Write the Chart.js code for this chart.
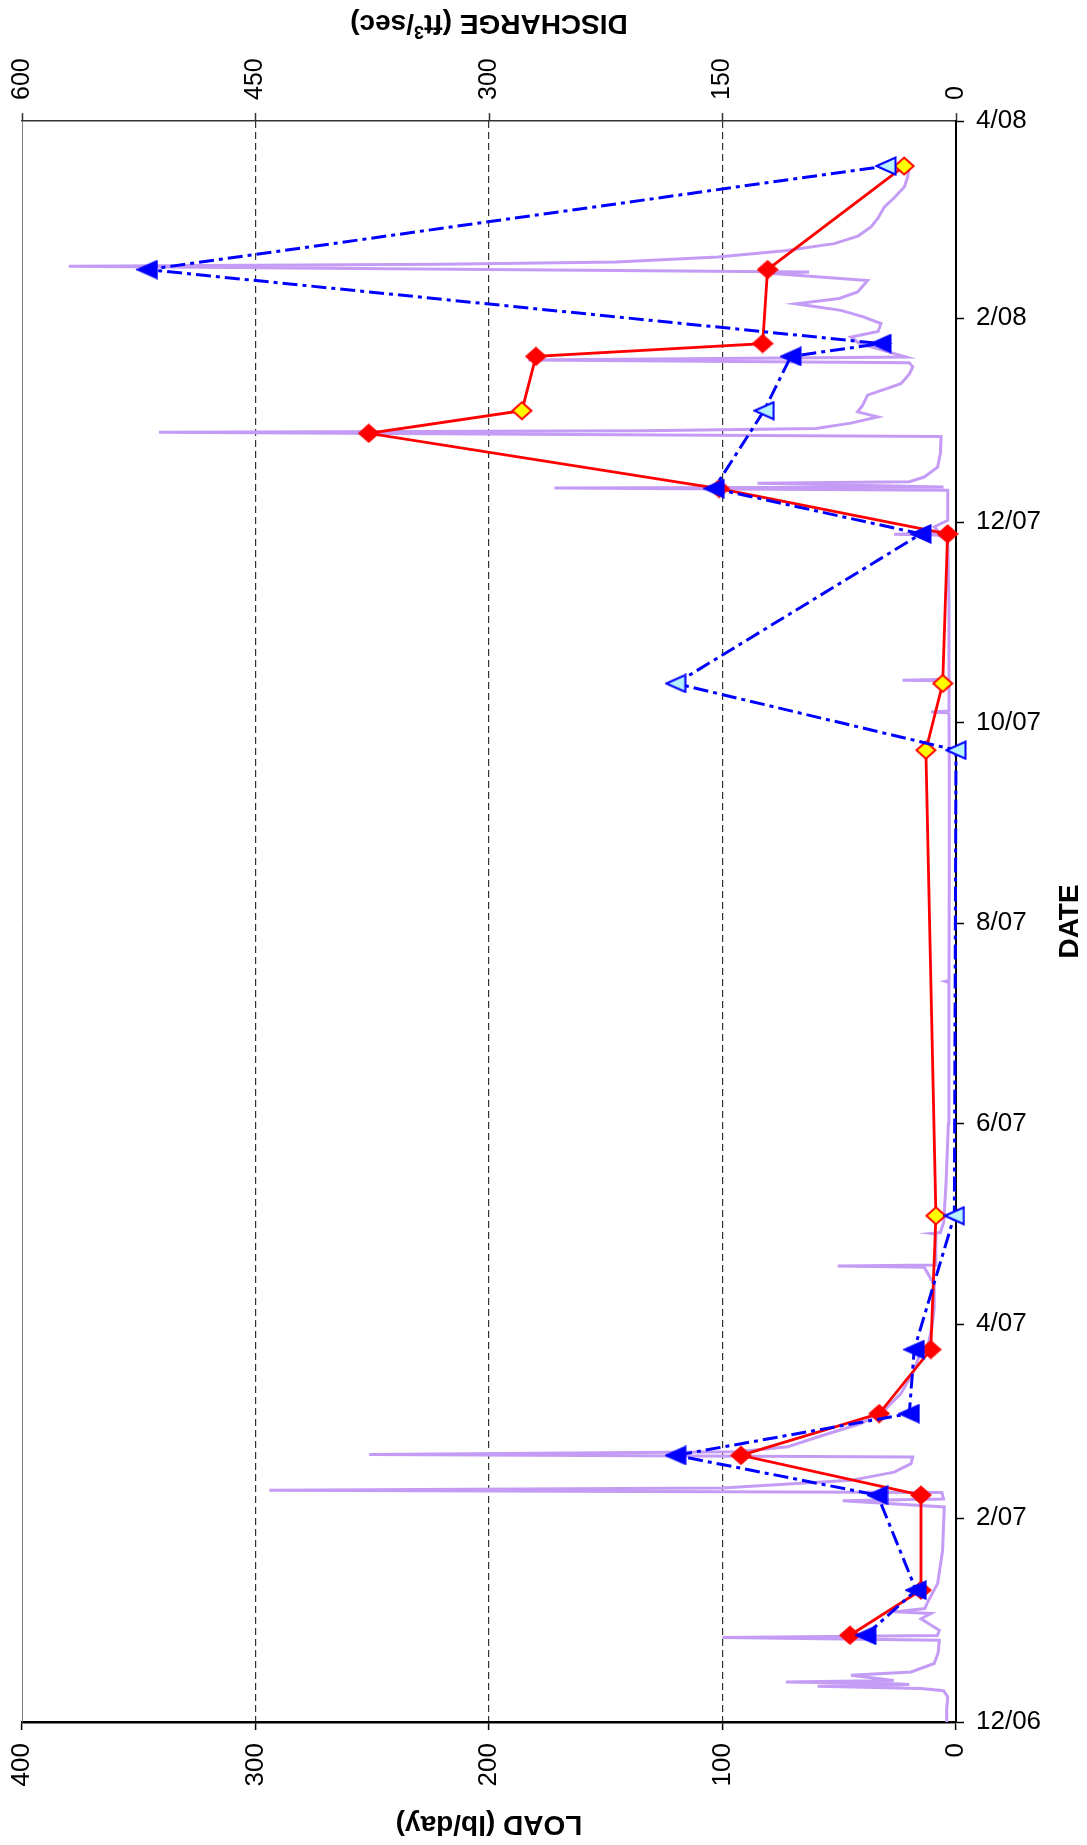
<!DOCTYPE html>
<html>
<head>
<meta charset="utf-8">
<script src="https://cdn.jsdelivr.net/npm/chart.js@4.4.1/dist/chart.umd.min.js"></script>
<style>
  html, body { margin: 0; padding: 0; background: #ffffff; }
  canvas { display: block; }
</style>
</head>
<body>
<canvas id="chart" width="1087" height="1845"></canvas>
<script>
// Date axis: days counted from 1 Dec 2006, labelled every two months
const dateTickDays = [0, 62, 121, 182, 243, 304, 365, 427, 487];
const dateTickLabels = ['12/06', '2/07', '4/07', '6/07', '8/07', '10/07', '12/07', '2/08', '4/08'];
const loadTicks = [0, 100, 200, 300, 400];
const dischargeTicks = [0, 150, 300, 450, 600];

// Continuous discharge record (ft3/sec)
const flowDays = [
  0, 4, 7.6, 9.5, 10.2, 10.9, 11.4, 11.7, 12.2, 12.6, 14.2, 15.2, 17.8, 21, 24.9, 25.7, 26.3, 27.9,
  31.4, 33, 33.5, 34.5, 36.5, 42.1, 52.2, 60, 65.4, 67.3, 67.8, 69.8, 70.5, 71.2, 72, 73.5, 76,
  78.6, 80.6, 81.4, 82.2, 83.7, 86.7, 90.8, 94.8, 99.9, 107, 113.1, 114.2, 120, 125.9, 133,
  138.3, 138.7, 139, 143, 148.4, 148.6, 148.9, 152, 164, 182, 200, 225, 225.3, 225.6, 260, 289,
  307, 307.2, 307.5, 316.7, 316.9, 317.2, 340, 359.5, 361.1, 361.3, 361.6, 363.5, 365.5, 374.7,
  375.4, 375.7, 376.8, 377.3, 378.7, 381.7, 386, 391, 392.3, 392.8, 393.5, 395.1, 397, 398.5,
  400.5, 403.6, 407.1, 410, 412.2, 413.5, 414.3, 415.2, 417, 419.3, 421.3, 423, 425.4, 427.5,
  429.4, 431.4, 433, 435, 438.5, 440.6, 441.1, 442.8, 443.4, 444.1, 445.6, 447.5, 449.7, 452,
  454.8, 457.5, 460.8, 463.5, 466.9, 470, 473.5
];
const flowCfs = [
  6.4, 6, 5.3, 8, 22.5, 88.9, 30, 41.8, 109.3, 40, 67.5, 28.9, 14, 11.5, 10.7, 150, 12, 10.7,
  22.5, 16, 39.7, 20, 18.2, 11.8, 8.6, 8, 7.5, 72.8, 8, 9, 441, 150, 121, 67.5, 39.7,
  28.9, 27.8, 377, 140, 108.2, 88.9, 61.1, 46.1, 35.4, 26.8, 22.5, 18.2, 15.5, 14, 14,
  20.4, 76, 13, 12.9, 13, 16, 10, 7.9, 6.4, 4.9, 4.6, 4.5, 6.9, 4.5, 4.3, 4.3,
  4.5, 16, 4.5, 4.5, 34.3, 4.5, 4.5, 5.3, 12, 39.7, 10, 14, 5.3, 5.3,
  258, 8, 127.5, 30, 20.4, 11.8, 10, 9.6, 512, 200, 90, 67.5, 50.3, 63.2,
  60, 56.8, 35.4, 30, 27.8, 30, 275, 32, 45, 62, 67.5, 50, 48.2, 60,
  73.9, 102.9, 75, 63.2, 56.8, 117.8, 94.3, 570, 330, 218, 153, 110, 78.2, 63,
  54.6, 50, 46.1, 40, 33.2, 31, 30
];

// Sampled loads (lb/day)
const sampleDays = [26.4, 40.1, 69.0, 81.1, 93.8, 113.3, 154, 295.6, 315.9, 361.4, 375.2, 392.0, 398.9, 415.4, 419.3, 441.8, 473.3];
const loadSolid = [45.4, 15.0, 15.0, 92.1, 32.9, 10.8, 8.6, 12.9, 5.7, 3.6, 101.4, 251.5, 185.9, 179.9, 82.8, 80.7, 22.2];
const loadDashDot = [38.6, 17.1, 33.6, 120.0, 20.0, 17.9, 0.7, 0.0, 120.0, 15.0, 103.6, null, 82.2, 70.7, 32.1, 346.3, 30.0];
const hollowMarker = [0, 0, 0, 0, 0, 0, 1, 1, 1, 0, 0, 0, 1, 0, 0, 0, 1];

const FONT = '"Liberation Sans", Arial, Helvetica, sans-serif';
const RED = '#ff0000', BLUE = '#0000ff', YELLOW = '#ffff00', PALE = '#b8f4ff', LAVENDER = '#c49cf5';

// Marker sprites
function diamondSprite(fill, stroke) {
  const c = document.createElement('canvas');
  c.width = 22; c.height = 20;
  const g = c.getContext('2d');
  g.beginPath();
  g.moveTo(1.5, 10); g.lineTo(11, 1.5); g.lineTo(20.5, 10); g.lineTo(11, 18.5); g.closePath();
  g.fillStyle = fill; g.fill();
  g.lineWidth = 2; g.strokeStyle = stroke; g.lineJoin = 'miter'; g.stroke();
  return c;
}
function triangleSprite(fill, stroke) {
  const c = document.createElement('canvas');
  c.width = 22; c.height = 20;
  const g = c.getContext('2d');
  g.beginPath();
  g.moveTo(1.5, 10); g.lineTo(20.5, 1.5); g.lineTo(20.5, 18.5); g.closePath();
  g.fillStyle = fill; g.fill();
  g.lineWidth = 2; g.strokeStyle = stroke; g.stroke();
  return c;
}
const dmSolid = diamondSprite(RED, RED);
const dmHollow = diamondSprite(YELLOW, RED);
const trSolid = triangleSprite(BLUE, BLUE);
const trHollow = triangleSprite(PALE, BLUE);

function buildPoints(values) {
  const pts = [], styles = [];
  values.forEach((v, i) => {
    if (v === null) return;
    pts.push({ x: v, y: sampleDays[i] });
    styles.push(hollowMarker[i]);
  });
  return { pts, styles };
}
const solidSet = buildPoints(loadSolid);
const dashSet = buildPoints(loadDashDot);

const axisTitles = {
  id: 'axisTitles',
  afterDraw(chart) {
    const ctx = chart.ctx;
    const a = chart.chartArea;
    const cx = (a.left + a.right) / 2;
    const cy = (a.top + a.bottom) / 2;
    ctx.save();
    ctx.fillStyle = '#000';
    ctx.textBaseline = 'middle';
    ctx.textAlign = 'center';
    ctx.font = 'bold 28px ' + FONT;

    // left edge of the plot frame
    ctx.strokeStyle = '#7f7f7f';
    ctx.lineWidth = 1;
    ctx.beginPath();
    ctx.moveTo(a.left + 0.5, a.top);
    ctx.lineTo(a.left + 0.5, a.bottom);
    ctx.stroke();

    // load axis title, turned upside down
    ctx.save();
    ctx.translate(cx, 1824);
    ctx.rotate(Math.PI);
    ctx.fillText('LOAD (lb/day)', 0, 0);
    ctx.restore();

    // date axis title, reading upward
    ctx.save();
    ctx.translate(1070, cy);
    ctx.rotate(-Math.PI / 2);
    ctx.fillText('DATE', 0, 0);
    ctx.restore();

    // discharge axis title with superscript, upside down
    ctx.save();
    ctx.translate(cx, 23);
    ctx.rotate(Math.PI);
    ctx.textAlign = 'left';
    const p1 = 'DISCHARGE (ft', p2 = '3', p3 = '/sec)';
    ctx.font = 'bold 28px ' + FONT;
    const w1 = ctx.measureText(p1).width;
    const w3 = ctx.measureText(p3).width;
    ctx.font = 'bold 18px ' + FONT;
    const w2 = ctx.measureText(p2).width;
    let x = -(w1 + w2 + w3) / 2;
    ctx.font = 'bold 28px ' + FONT;
    ctx.fillText(p1, x, 0); x += w1;
    ctx.font = 'bold 18px ' + FONT;
    ctx.fillText(p2, x, -8); x += w2;
    ctx.font = 'bold 28px ' + FONT;
    ctx.fillText(p3, x, 0);
    ctx.restore();

    ctx.restore();
  }
};

new Chart(document.getElementById('chart'), {
  type: 'scatter',
  data: {
    datasets: [
      {
        data: dashSet.pts,
        xAxisID: 'xl', yAxisID: 'y',
        showLine: true,
        borderColor: BLUE,
        borderWidth: 3,
        borderDash: [15, 5, 4, 5],
        pointStyle: dashSet.styles.map(h => h ? trHollow : trSolid),
        pointRadius: 10,
        clip: false
      },
      {
        data: solidSet.pts,
        xAxisID: 'xl', yAxisID: 'y',
        showLine: true,
        borderColor: RED,
        borderWidth: 2.8,
        pointStyle: solidSet.styles.map(h => h ? dmHollow : dmSolid),
        pointRadius: 10,
        clip: false
      },
      {
        data: flowDays.map((d, i) => ({ x: flowCfs[i], y: d })),
        xAxisID: 'xq', yAxisID: 'y',
        showLine: true,
        borderColor: LAVENDER,
        borderWidth: 3,
        pointRadius: 0,
        tension: 0
      }
    ]
  },
  options: {
    responsive: false,
    animation: false,
    devicePixelRatio: 1,
    layout: { padding: { left: 22, top: 0, right: 0, bottom: 0 } },
    plugins: { legend: { display: false }, tooltip: { enabled: false } },
    scales: {
      xl: {
        type: 'linear', position: 'bottom', reverse: true, min: 0, max: 400,
        afterBuildTicks: s => { s.ticks = loadTicks.map(v => ({ value: v })); },
        afterFit: s => { s.height = 123; },
        ticks: { autoSkip: false, minRotation: 90, maxRotation: 90, padding: 13, color: '#000',
                 font: { family: FONT, size: 26 } },
        grid: {
          color: c => (c.tick && (c.tick.value === 0 || c.tick.value === 400)) ? 'rgba(0,0,0,0)' : '#333333',
          lineWidth: 1.2, tickColor: '#000', tickLength: 8, tickWidth: 1.5
        },
        border: { color: '#000', width: 2.5, dash: [7, 4] }
      },
      xq: {
        type: 'linear', position: 'top', reverse: true, min: 0, max: 600,
        afterBuildTicks: s => { s.ticks = dischargeTicks.map(v => ({ value: v })); },
        afterFit: s => { s.height = 121; },
        ticks: { autoSkip: false, minRotation: 90, maxRotation: 90, padding: 13, color: '#000',
                 labelOffset: 30, font: { family: FONT, size: 25 } },
        grid: { drawOnChartArea: false, tickColor: '#333', tickLength: 8, tickWidth: 1.5 },
        border: { color: '#333', width: 1.5 }
      },
      y: {
        type: 'linear', position: 'right', min: 0, max: 487,
        afterBuildTicks: s => { s.ticks = dateTickDays.map(v => ({ value: v })); },
        afterFit: s => { s.width = 131; },
        ticks: { autoSkip: false, padding: 12, color: '#000', font: { family: FONT, size: 26 },
                 callback: v => dateTickLabels[dateTickDays.indexOf(v)] },
        grid: { drawOnChartArea: false, tickColor: '#000', tickLength: 8, tickWidth: 1.5 },
        border: { color: '#000', width: 2 }
      }
    }
  },
  plugins: [axisTitles]
});
</script>
</body>
</html>
